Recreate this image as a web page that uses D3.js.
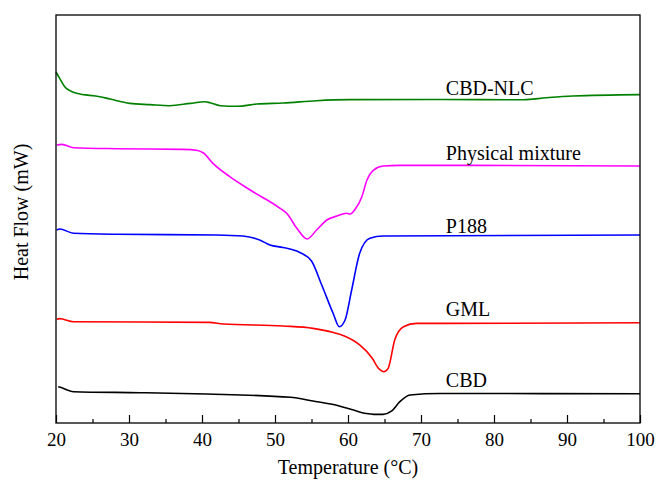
<!DOCTYPE html>
<html>
<head>
<meta charset="utf-8">
<script src="https://cdn.jsdelivr.net/npm/d3@7"></script>
<style>
  html, body { margin: 0; padding: 0; background: #fff; }
  svg text { font-family: "Liberation Serif", "Times New Roman", serif; fill: #000; }
</style>
</head>
<body>
<svg id="chart" width="656" height="480"></svg>
<script>
// DSC thermograms, vertically offset (arbitrary heat-flow units)
const xTicks = [20, 30, 40, 50, 60, 70, 80, 90, 100];
const seriesNames = ["CBD-NLC", "Physical mixture", "P188", "GML", "CBD"];
const seriesColors = ["#008000", "#ff00ff", "#0000ff", "#ff0000", "#000000"];

const cbdNlcT = [20.0, 20.5, 21.2, 21.9, 22.8, 26.0, 27.4, 30.1, 32.9, 35.6, 38.4, 40.4, 41.1, 42.5, 44.8, 47.5, 51.1, 55.7, 60.3, 72.6, 84.0, 87.2, 90.8, 100.0];
const cbdNlcHF = [34.41, 33.79, 32.97, 32.58, 32.32, 31.99, 31.76, 31.34, 31.21, 31.11, 31.34, 31.50, 31.40, 31.11, 31.05, 31.27, 31.37, 31.60, 31.70, 31.72, 31.69, 31.89, 32.06, 32.19];

const physMixT = [20.1, 20.8, 22.4, 28.3, 37.4, 39.4, 40.2, 41.5, 43.8, 46.6, 50.7, 51.6, 53.0, 54.4, 55.7, 57.1, 58.5, 59.8, 60.3, 61.0, 61.9, 62.6, 63.5, 64.8, 67.1, 100.0];
const physMixHF = [27.25, 27.32, 26.99, 26.89, 26.83, 26.72, 26.47, 25.46, 24.15, 22.84, 21.05, 20.56, 19.09, 18.04, 18.92, 19.90, 20.29, 20.56, 20.49, 20.98, 22.19, 23.82, 24.80, 25.20, 25.26, 25.20];

const p188T = [20.1, 20.5, 22.4, 28.3, 42.0, 45.6, 47.9, 49.3, 51.1, 53.4, 55.0, 56.4, 58.0, 58.8, 59.6, 60.5, 61.6, 63.0, 64.8, 100.0];
const p188HF = [18.92, 19.02, 18.60, 18.50, 18.43, 18.33, 17.94, 17.45, 17.21, 16.72, 15.88, 13.53, 10.69, 9.44, 10.10, 13.04, 16.64, 18.11, 18.33, 18.43];

const gmlT = [20.1, 20.5, 22.4, 41.0, 42.9, 51.1, 55.2, 58.0, 59.5, 61.6, 63.3, 64.2, 64.9, 65.5, 66.4, 67.6, 69.4, 73.5, 100.0];
const gmlHF = [10.17, 10.23, 9.93, 9.87, 9.71, 9.51, 9.28, 8.87, 8.53, 7.65, 6.37, 5.34, 5.03, 5.36, 8.14, 9.44, 9.77, 9.77, 9.83];

const cbdT = [20.3, 20.6, 22.4, 31.5, 40.6, 52.1, 55.2, 58.0, 60.5, 62.5, 63.5, 64.8, 66.0, 67.1, 68.5, 72.6, 100.0];
const cbdHF = [3.56, 3.50, 3.07, 2.97, 2.84, 2.52, 2.16, 1.81, 1.32, 0.93, 0.85, 0.85, 1.18, 2.09, 2.75, 2.89, 2.87];

const temps = [cbdNlcT, physMixT, p188T, gmlT, cbdT];
const flows = [cbdNlcHF, physMixHF, p188HF, gmlHF, cbdHF];

// layout
const margin = { left: 56, right: 16, top: 15, bottom: 57 };
const W = 656, H = 480;
const svg = d3.select("#chart");
const x = d3.scaleLinear().domain([20, 100]).range([margin.left, W - margin.right]);
const y = d3.scaleLinear().domain([0, 40]).range([H - margin.bottom, margin.top]);

// curves
const line = d3.line()
  .x(d => x(d[0]))
  .y(d => y(d[1]))
  .curve(d3.curveMonotoneX);

seriesNames.forEach((name, i) => {
  const pts = temps[i].map((t, j) => [t, flows[i][j]]);
  svg.append("path")
    .datum(pts)
    .attr("fill", "none")
    .attr("stroke", seriesColors[i])
    .attr("stroke-width", 1.6)
    .attr("stroke-linejoin", "round")
    .attr("d", line);
});

// curve labels, placed beside each trace's plateau
const labelAt = { t: 73.4, hf: [32.16, 25.78, 18.63, 10.49, 3.50] };
seriesNames.forEach((name, i) => {
  svg.append("text")
    .attr("x", x(labelAt.t))
    .attr("y", y(labelAt.hf[i]))
    .attr("font-size", 20)
    .text(name);
});

// frame
svg.append("rect")
  .attr("x", margin.left)
  .attr("y", margin.top)
  .attr("width", W - margin.left - margin.right)
  .attr("height", H - margin.top - margin.bottom)
  .attr("fill", "none")
  .attr("stroke", "#000")
  .attr("stroke-width", 1.3);

// bottom axis: major ticks with labels, minor ticks between, all pointing inward
const axisY = H - margin.bottom;
const minorTicks = d3.range(25, 100, 10);
svg.append("g")
  .attr("transform", `translate(0,${axisY})`)
  .call(d3.axisBottom(x).tickValues(minorTicks).tickSize(-4).tickFormat(""))
  .call(g => g.select(".domain").remove())
  .call(g => g.selectAll("line").attr("stroke-width", 1.2));

svg.append("g")
  .attr("transform", `translate(0,${axisY})`)
  .call(d3.axisBottom(x).tickValues(xTicks).tickSize(-8).tickPadding(10).tickFormat(d3.format("d")))
  .call(g => g.select(".domain").remove())
  .call(g => g.selectAll("line").attr("stroke-width", 1.2))
  .call(g => g.selectAll("text")
    .attr("font-family", "'Liberation Serif', 'Times New Roman', serif")
    .attr("font-size", 19)
    .attr("fill", "#000"));

// axis titles
svg.append("text")
  .attr("x", (margin.left + W - margin.right) / 2)
  .attr("y", 474)
  .attr("text-anchor", "middle")
  .attr("font-size", 20)
  .text("Temperature (°C)");

svg.append("text")
  .attr("transform", `translate(28,212) rotate(-90)`)
  .attr("text-anchor", "middle")
  .attr("font-size", 20)
  .text("Heat Flow (mW)");
</script>
</body>
</html>
